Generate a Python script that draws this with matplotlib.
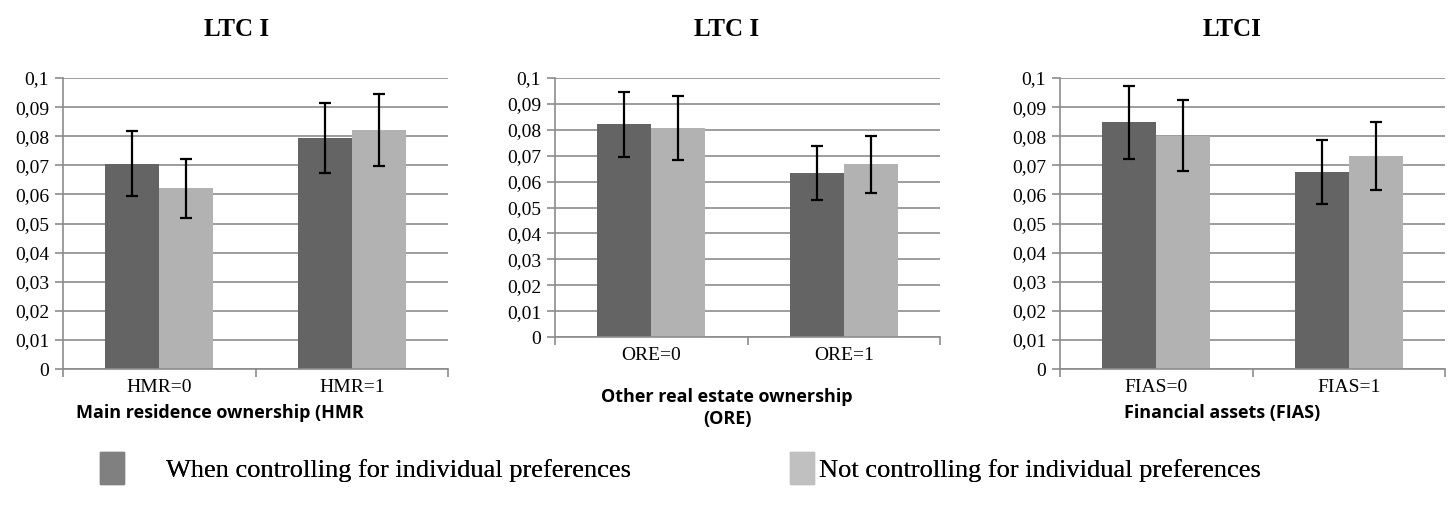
import numpy as np
import matplotlib.pyplot as plt
from matplotlib.patches import Patch

# Datos
titulos = ["LTC I", "LTC I", "LTCI"]
categorias = [["HMR=0", "HMR=1"], ["ORE=0", "ORE=1"], ["FIAS=0", "FIAS=1"]]
con_pref = [[0.0706, 0.0793], [0.0821, 0.0633], [0.0848, 0.0677]]
sin_pref = [[0.0621, 0.0821], [0.0807, 0.0667], [0.0801, 0.0731]]
err_con = [[0.0112, 0.0121], [0.0125, 0.0105], [0.0126, 0.0110]]
err_sin = [[0.0101, 0.0125], [0.0123, 0.0110], [0.0122, 0.0117]]
etiquetas_x = ["Main residence ownership (HMR", "Other real estate ownership\n(ORE)",
               "Financial assets (FIAS)"]
series = ["When controlling for individual preferences",
          "Not controlling for individual preferences"]
yticks = [0, 0.01, 0.02, 0.03, 0.04, 0.05, 0.06, 0.07, 0.08, 0.09, 0.1]

W, H = 1456, 516
fig = plt.figure(figsize=(W / 100, H / 100), dpi=100)

oscuro = "#646464"
claro = "#b2b2b2"
gris = "#8c8c8c"
serif = "Liberation Serif"

# posiciones de los ejes en pixeles (izq, der, arriba, abajo)
cajas = [(63, 448, 78, 369), (555, 940, 78, 337), (1060, 1445, 78, 369)]
pos_xlabel = [(220, 413), (727, 408), (1222, 413)]
pos_titulo = [237, 727, 1232]

for i in range(3):
    x0, x1, y0, y1 = cajas[i]
    ax = fig.add_axes([x0 / W, 1 - y1 / H, (x1 - x0) / W, (y1 - y0) / H])
    x = np.arange(2)
    ancho = 0.28
    ax.bar(x - ancho / 2, con_pref[i], ancho, color=oscuro, zorder=2)
    ax.bar(x + ancho / 2, sin_pref[i], ancho, color=claro, zorder=2)
    ax.errorbar(x - ancho / 2, con_pref[i], yerr=err_con[i], fmt="none",
                ecolor="black", elinewidth=1.6, capsize=4, capthick=1.6, zorder=3)
    ax.errorbar(x + ancho / 2, sin_pref[i], yerr=err_sin[i], fmt="none",
                ecolor="black", elinewidth=1.6, capsize=4, capthick=1.6, zorder=3)
    ax.set_xlim(-0.5, 1.5)
    ax.set_ylim(0, 0.1)
    ax.set_yticks(yticks)
    ax.set_yticklabels([("%g" % v).replace(".", ",") for v in yticks],
                       fontsize=14, family=serif)
    ax.set_xticks([-0.5, 0.5, 1.5])
    ax.set_xticks(x, minor=True)
    ax.set_xticklabels([])
    ax.set_xticklabels(categorias[i], minor=True, fontsize=14, family=serif)
    ax.tick_params(axis="x", which="minor", length=0, pad=7)
    ax.tick_params(axis="x", which="major", length=6, color=gris, width=1.2)
    ax.tick_params(axis="y", length=6, color=gris, width=1.2, pad=4)
    ax.grid(axis="y", color=gris, linewidth=1.2, zorder=0)
    for lado in ["top", "right"]:
        ax.spines[lado].set_visible(False)
    for lado in ["left", "bottom"]:
        ax.spines[lado].set_color(gris)
        ax.spines[lado].set_linewidth(1.2)
    fig.text(pos_titulo[i] / W, 1 - 30 / H, titulos[i], ha="center", va="center",
             fontsize=18, fontweight="bold", family=serif)
    fig.text(pos_xlabel[i][0] / W, 1 - pos_xlabel[i][1] / H, etiquetas_x[i],
             ha="center", va="center", fontsize=13, fontweight="bold",
             family="Open Sans", linespacing=1.3)

# leyenda en dos partes, como en el original
colores_ley = ["#808080", "#c0c0c0"]
x_ley = [100, 790]
for k in range(2):
    ley = fig.legend([Patch(color=colores_ley[k])], [series[k]], loc="center left",
                     bbox_to_anchor=(x_ley[k] / W, 1 - 468 / H), frameon=False,
                     prop={"family": serif, "size": 19}, handlelength=0.9,
                     handleheight=1.5, handletextpad=0.2 if k == 1 else 1.6,
                     borderpad=0, borderaxespad=0)
    fig.add_artist(ley)

fig.savefig("out.png", dpi=100)
